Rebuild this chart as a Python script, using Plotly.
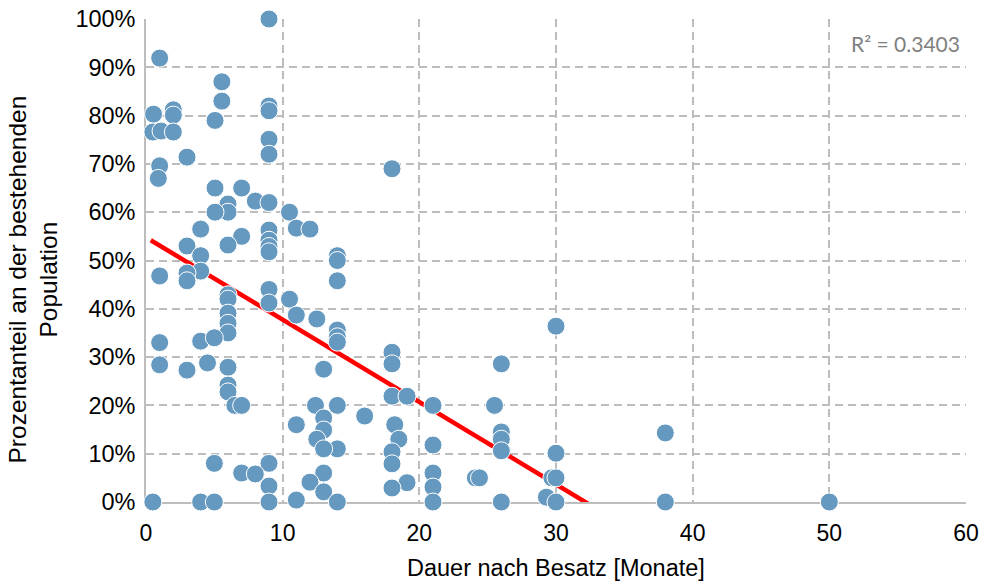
import plotly.graph_objects as go

# Dauer nach Besatz [Monate]
months = [
    9, 1, 5.55, 5.55, 5.05, 0.55, 2, 2, 0.5, 1.1, 2, 9, 9, 3, 9, 9, 1, 0.9, 18,
    5.05, 7, 6, 6, 8, 9, 5.05, 10.5, 11, 12, 4, 7, 3, 6, 9, 9, 9, 9,
    14, 14, 4, 4, 3, 3, 1, 14, 6, 6, 9, 10.5, 9, 6, 6, 6, 11, 12.5,
    4, 5, 1, 14, 14, 14, 1, 3, 4.5, 6, 13, 30, 18, 18, 26,
    6, 6, 6.5, 7, 18, 19.1, 12.4, 14, 16, 21, 25.5, 13, 11, 18.2, 13, 18.5, 12.5,
    26, 26, 26, 38, 21, 14, 13, 18, 30, 18, 5, 9, 7, 8, 13, 21,
    24.1, 24.4, 29.7, 30, 12, 19.1, 9, 18, 21, 13, 29.3, 11,
    0.5, 4, 5, 9, 14, 21, 26, 30, 38, 50,
]
# Prozentanteil an der bestehenden Population [%]
percent = [
    100, 91.9, 87, 83, 79, 80.3, 81.2, 80.1, 76.6, 76.8, 76.6, 82, 81, 71.4, 75.1, 72, 69.6, 67, 69,
    65, 65, 61.7, 60, 62.3, 62, 60, 60, 56.7, 56.5, 56.5, 55, 53, 53.2, 56.3, 54.2, 52.9, 51.8,
    51, 50, 51, 47.8, 47.4, 45.8, 46.8, 45.8, 42.9, 42, 44, 42, 41.2, 39.1, 37, 35, 38.7, 37.9,
    33.3, 34, 33, 35.6, 34.2, 33.1, 28.4, 27.3, 28.8, 27.9, 27.5, 36.4, 31, 28.6, 28.6,
    24.2, 22.8, 20, 20, 21.9, 21.9, 20, 20, 17.8, 20, 20, 17.4, 16, 16, 14.9, 13, 13,
    14.5, 13, 10.6, 14.3, 11.8, 11, 11, 10.4, 10.1, 7.9, 8, 8, 6, 5.8, 6, 6,
    5, 5, 5, 5, 4.1, 4, 3.3, 2.9, 3.1, 2.1, 1, 0.4,
    0, 0, 0, 0, 0, 0, 0, 0, 0, 0,
]

# linear trendline (Excel) coefficients, in percent
trend_slope = -1.705
trend_intercept = 54.8
trend_x_range = [0.35, 50]
r_squared_label = "R² = 0.3403"

x_ticks = [0, 10, 20, 30, 40, 50, 60]
y_ticks = [0, 10, 20, 30, 40, 50, 60, 70, 80, 90, 100]

x_title = "Dauer nach Besatz [Monate]"
y_title = "Prozentanteil an der bestehenden<br>Population"

FONT = "Liberation Sans, Arial, sans-serif"
GRID = "#BDBDBD"

fig = go.Figure()

trend_y = [trend_intercept + trend_slope * xv for xv in trend_x_range]
fig.add_trace(go.Scatter(
    x=trend_x_range, y=trend_y, mode="lines",
    line=dict(color="#FF0000", width=4.5),
    hoverinfo="skip", showlegend=False,
))
fig.add_trace(go.Scatter(
    x=months, y=percent, mode="markers",
    marker=dict(size=18, color="#6599BF", line=dict(color="white", width=1)),
    cliponaxis=False, showlegend=False,
))

fig.update_layout(
    width=982, height=582,
    margin=dict(l=146, r=16, t=19, b=80, autoexpand=False),
    paper_bgcolor="white", plot_bgcolor="white",
    font=dict(family=FONT, size=23, color="#000000"),
    showlegend=False,
)
fig.update_xaxes(
    range=[0, 60], tickvals=x_ticks, ticktext=[str(v) for v in x_ticks],
    showgrid=True, gridcolor=GRID, griddash="8px,5px", gridwidth=1.6,
    showline=True, linecolor=GRID, linewidth=1.6,
    zeroline=False, ticks="", ticklabelstandoff=10, layer="below traces",
    tickfont=dict(size=23), automargin=False,
)
fig.update_yaxes(
    range=[0, 100], tickvals=y_ticks, ticktext=[f"{v}%" for v in y_ticks],
    showgrid=True, gridcolor=GRID, griddash="8px,5px", gridwidth=1.6,
    showline=True, linecolor=GRID, linewidth=1.6,
    zeroline=False, ticks="", ticklabelstandoff=4, layer="below traces",
    tickfont=dict(size=23.5), automargin=False,
)

fig.add_annotation(
    text=x_title, xref="paper", yref="paper", x=0.5, y=0,
    xanchor="center", yanchor="middle", yshift=-66, showarrow=False,
    font=dict(size=23.5, family=FONT, color="#000000"),
)
fig.add_annotation(
    text=y_title, xref="paper", yref="paper", x=0, y=0.5,
    xanchor="center", yanchor="middle", xshift=-113, yshift=-19,
    textangle=-90, showarrow=False,
    font=dict(size=24.5, family=FONT, color="#000000"),
)
fig.add_annotation(
    text=r_squared_label, xref="paper", yref="paper", x=1, y=1,
    xanchor="right", yanchor="middle", xshift=-4, yshift=-24, showarrow=False,
    font=dict(size=21, family="Lato, Open Sans, sans-serif", color="#7F7F7F"),
)

fig.write_html("out.html")
